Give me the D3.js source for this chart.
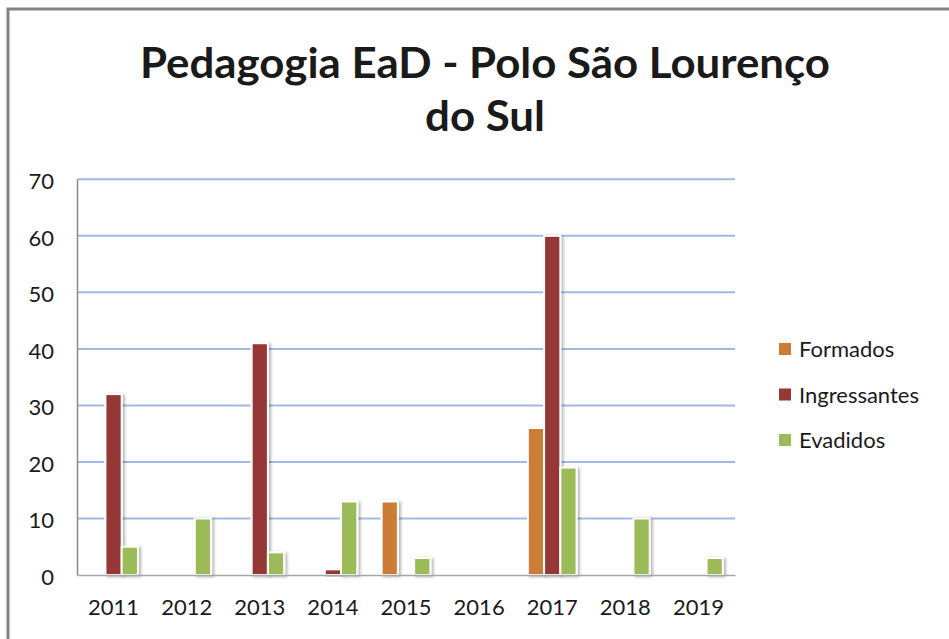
<!DOCTYPE html>
<html>
<head>
<meta charset="utf-8">
<script src="https://cdn.jsdelivr.net/npm/d3@7"></script>
<style>
  html, body { margin: 0; padding: 0; background: #ffffff; }
  svg { display: block; }
  text { font-family: Lato, "Open Sans", sans-serif; fill: #1a1a1a; }
</style>
</head>
<body>
<svg id="chart" width="949" height="639"></svg>
<script>
const titleLines = ["Pedagogia EaD - Polo São Lourenço", "do Sul"];
const categories = ["2011", "2012", "2013", "2014", "2015", "2016", "2017", "2018", "2019"];
const seriesNames = ["Formados", "Ingressantes", "Evadidos"];
const formados     = [0, 0, 0, 0, 13, 0, 26, 0, 0];
const ingressantes = [32, 0, 41, 1, 0, 0, 60, 0, 0];
const evadidos     = [5, 10, 4, 13, 3, 0, 19, 10, 3];
const yTicks = [0, 10, 20, 30, 40, 50, 60, 70];
const colors = ["#CD7B37", "#953735", "#9BBB59"];

const seriesValues = [formados, ingressantes, evadidos];
const svg = d3.select("#chart");

// drop shadow filter
const defs = svg.append("defs");
const f = defs.append("filter").attr("id", "shadow").attr("x", "-30%").attr("y", "-10%").attr("width", "180%").attr("height", "130%");
f.append("feDropShadow").attr("dx", 2).attr("dy", 1).attr("stdDeviation", 1.4)
  .attr("flood-color", "#000").attr("flood-opacity", 0.3);

// outer frame
svg.append("rect").attr("x", 8).attr("y", 9).attr("width", 1200).attr("height", 1200)
  .attr("fill", "none").attr("stroke", "#848484").attr("stroke-width", 3);

// title
const title = svg.append("g");
title.append("text").attr("x", 485).attr("y", 78).attr("text-anchor", "middle")
  .attr("font-size", 42).attr("font-weight", "bold")
  .attr("textLength", 690).attr("lengthAdjust", "spacingAndGlyphs")
  .text(titleLines[0]);
title.append("text").attr("x", 485).attr("y", 131).attr("text-anchor", "middle")
  .attr("font-size", 42).attr("font-weight", "bold")
  .attr("textLength", 120).attr("lengthAdjust", "spacingAndGlyphs")
  .text(titleLines[1]);

// scales
const x = d3.scaleBand().domain(categories).range([77, 735]).paddingInner(0).paddingOuter(0);
const xs = d3.scaleBand().domain(seriesNames).range([0, x.bandwidth()]).paddingInner(0).paddingOuter(0.75);
const y = d3.scaleLinear().domain([0, 70]).range([575, 179.3]);

// gridlines
svg.append("g").selectAll("line").data(yTicks.filter(d => d > 0)).join("line")
  .attr("x1", 77).attr("x2", 735)
  .attr("y1", d => y(d)).attr("y2", d => y(d))
  .attr("stroke", "#A3B9E3").attr("stroke-width", 2);

// y axis
const yAxis = d3.axisLeft(y).tickValues(yTicks).tickSize(0).tickPadding(23);
const gy = svg.append("g").attr("transform", "translate(77,0)").call(yAxis);
gy.select(".domain").attr("stroke", "#8a8a8a").attr("stroke-width", 1.5);
gy.selectAll("text").attr("font-size", 22).attr("fill", "#1a1a1a")
  .attr("font-family", "Lato, sans-serif").attr("dy", "0.42em");

// bars
const groups = svg.append("g").selectAll("g").data(seriesNames).join("g")
  .attr("fill", (d, i) => colors[i]);
groups.each(function (name, si) {
  const data = categories.map((c, ci) => ({ c, v: seriesValues[si][ci] })).filter(d => d.v > 0);
  d3.select(this).selectAll("rect").data(data).join("rect")
    .attr("x", d => x(d.c) + xs(name))
    .attr("width", xs.bandwidth())
    .attr("y", d => y(d.v))
    .attr("height", d => y(0) - y(d.v))
    .attr("stroke", "#ffffff").attr("stroke-width", 2)
    .attr("filter", "url(#shadow)");
});

// x axis baseline
const xAxis = d3.axisBottom(x).tickSize(0).tickPadding(24);
const gx = svg.append("g").attr("transform", `translate(0,${y(0)})`).call(xAxis);
gx.select(".domain").attr("stroke", "#a6a6a6").attr("stroke-width", 1.5);
gx.selectAll("text").attr("font-size", 22).attr("fill", "#1a1a1a")
  .attr("font-family", "Lato, sans-serif");

// legend
const legend = svg.append("g").selectAll("g").data(seriesNames).join("g")
  .attr("transform", (d, i) => `translate(779,${357 + i * 45.5})`);
legend.append("rect").attr("x", 0).attr("y", -14).attr("width", 12).attr("height", 12)
  .attr("fill", (d, i) => colors[i]);
legend.append("text").attr("x", 20).attr("y", 0).attr("font-size", 22).text(d => d);
</script>
</body>
</html>
